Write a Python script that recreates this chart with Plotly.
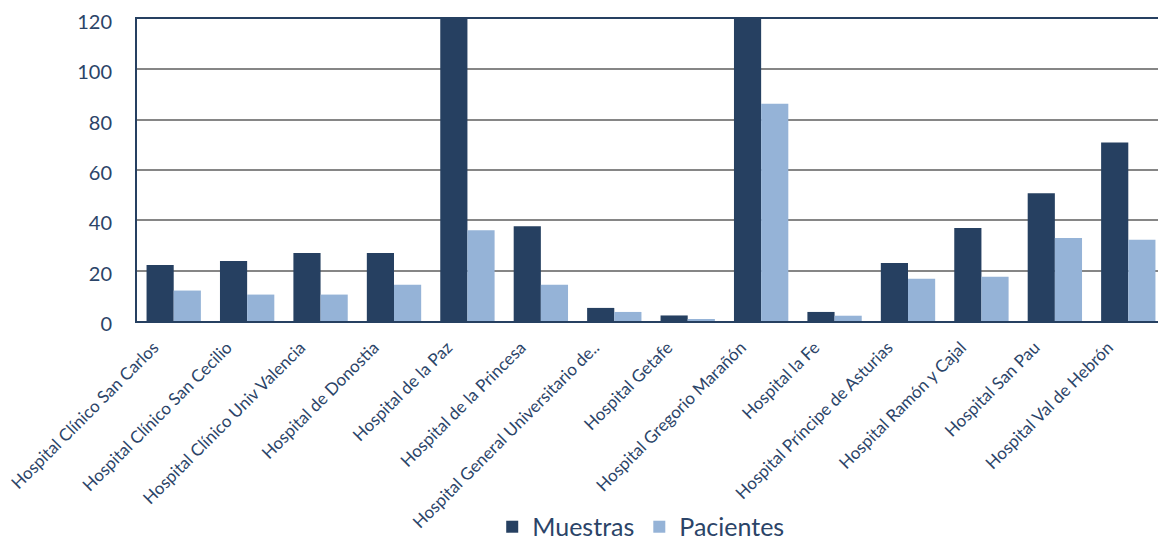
import plotly.graph_objects as go

categories = [
    "Hospital Clínico San Carlos",
    "Hospital Clínico San Cecilio",
    "Hospital Clínico Univ Valencia",
    "Hospital de Donostia",
    "Hospital de la Paz",
    "Hospital de la Princesa",
    "Hospital General Universitario de..",
    "Hospital Getafe",
    "Hospital Gregorio Marañón",
    "Hospital la Fe",
    "Hospital Príncipe de Asturias",
    "Hospital Ramón y Cajal",
    "Hospital San Pau",
    "Hospital Val de Hebrón",
]
muestras = [22.3, 23.8, 27, 27, 140, 37.6, 5.2, 2.2, 135, 3.6, 23, 37, 50.8, 70.9]
pacientes = [12.1, 10.5, 10.5, 14.4, 36.1, 14.4, 3.6, 0.5, 86.3, 2.1, 16.8, 17.6, 33, 32.3]

navy = "#264061"
light = "#95B3D7"
text_col = "#2B4468"
font_family = "Lato, Open Sans, sans-serif"

fig = go.Figure()
fig.add_trace(go.Bar(x=categories, y=muestras, name="Muestras",
                     marker=dict(color=navy, line=dict(width=0))))
fig.add_trace(go.Bar(x=categories, y=pacientes, name="Pacientes",
                     marker=dict(color=light, line=dict(width=0))))

fig.update_layout(
    width=1158, height=534,
    margin=dict(l=129, r=1, t=11, b=221, autoexpand=False),
    paper_bgcolor="white", plot_bgcolor="white",
    barmode="group", bargap=0.26, bargroupgap=0,
    font=dict(family=font_family, color=text_col),
    showlegend=True,
    legend=dict(orientation="h", x=0.49, xanchor="center", y=-0.682, yanchor="middle",
                font=dict(size=25, color=text_col), itemwidth=30, traceorder="normal"),
)
fig.update_yaxes(range=[0, 120], dtick=20, showgrid=True, gridcolor="#868686", gridwidth=2,
                 showline=True, linecolor=navy, linewidth=2, mirror=True,
                 ticks="", tickfont=dict(size=20, color=text_col), ticklabelstandoff=19,
                 ticklabelshift=3, ticklabeloverflow="allow",
                 zeroline=False, automargin=False)
fig.update_xaxes(showline=True, linecolor=navy, linewidth=2, mirror=True,
                 tickangle=-45, tickfont=dict(size=17, color=text_col), ticks="",
                 ticklabelshift=-20, ticklabelstandoff=8, ticklabeloverflow="allow",
                 automargin=False)

fig.write_html("out.html")
